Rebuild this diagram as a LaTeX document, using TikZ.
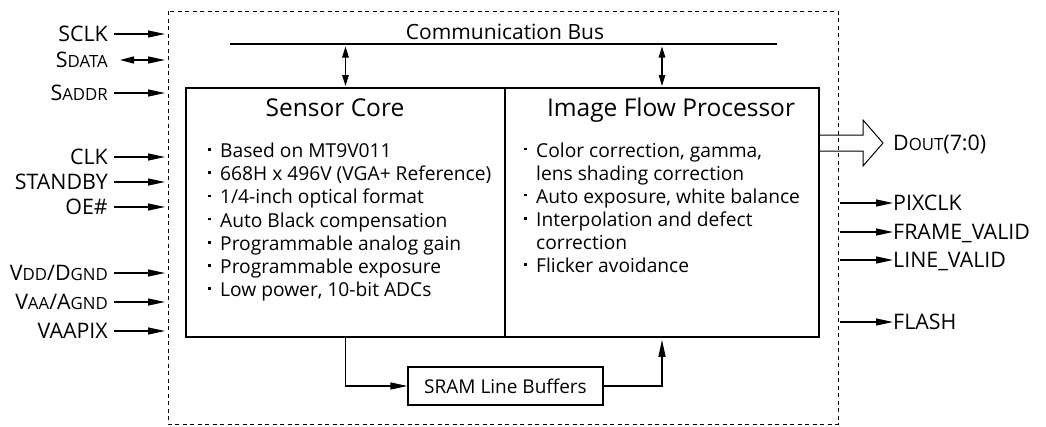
\documentclass[tikz,border=0pt]{standalone}
\usepackage{fontspec}
\setmainfont{Open Sans}
\usetikzlibrary{arrows.meta}
\newcommand{\smcap}[1]{{\fontsize{16.8}{17}\selectfont #1}}
\newcommand{\bul}{\makebox[12pt][l]{\rule[6.8pt]{2.6pt}{2.6pt}}}
\begin{document}
\begin{tikzpicture}[x=1pt,y=-1pt,
  lbl/.style={font=\fontsize{21.4}{22}\selectfont, inner sep=0pt},
  ttl/.style={font=\fontsize{24.5}{25}\selectfont, inner sep=0pt, anchor=base},
  itm/.style={font=\fontsize{19.2}{20}\selectfont, inner sep=0pt, anchor=base west},
  blockbox/.style={draw, line width=2.8pt, minimum height=249pt, inner sep=0pt},
  sig/.style={-{Triangle[length=17pt,width=7pt]}, line width=1.2pt},
  dsig/.style={{Triangle[length=14pt,width=7pt]}-{Triangle[length=17pt,width=7pt]}, line width=1.2pt},
  busarr/.style={{Triangle[length=11pt,width=6.5pt]}-{Triangle[length=11pt,width=6.5pt]}, line width=1.2pt},
  outline/.style={draw, dash pattern=on 4pt off 3.5pt, line width=0.9pt}
]
\useasboundingbox (0,0) rectangle (1046,426);
% outer dashed chip outline
\draw[outline] (168,11) rectangle (838,424);
% communication bus
\coordinate (busL) at (230,44);
\coordinate (busR) at (777,44);
\draw[line width=2.7pt] (busL) -- (busR);
\node[font=\fontsize{21}{22}\selectfont, inner sep=0pt, anchor=base] (bustxt) at (505,39) {Communication Bus};
% blocks
\node[blockbox, minimum width=319pt] (sc) at (345.5,212.5) {};
\node[blockbox, minimum width=314pt] (ifp) at (662,212.5) {};
% bus arrows
\coordinate (b1t) at (345.5,46.5);
\coordinate (b1b) at (345.5,86);
\coordinate (b2t) at (662,46.5);
\coordinate (b2b) at (662,86);
\draw[busarr] (b1t) -- (b1b);
\draw[busarr] (b2t) -- (b2b);
% titles
\node[ttl] (sctitle) at (335,116) {Sensor Core};
\node[ttl] (ifptitle) at (671,116) {Image Flow Processor};
% sensor core items
\node[itm] (s1) at (208,157.5) {\bul Based on MT9V011};
\node[itm] (s2) at (208,180.7) {\bul 668H x 496V (VGA+ Reference)};
\node[itm] (s3) at (208,203.9) {\bul 1/4-inch optical format};
\node[itm] (s4) at (208,227.1) {\bul Auto Black compensation};
\node[itm] (s5) at (208,250.3) {\bul Programmable analog gain};
\node[itm] (s6) at (208,273.5) {\bul Programmable exposure};
\node[itm] (s7) at (208,296.7) {\bul Low power, 10-bit ADCs};
% IFP items
\node[itm] (p1) at (524,157) {\bul Color correction, gamma,};
\node[itm] (p2) at (524,180) {\hphantom{\bul}lens shading correction};
\node[itm] (p3) at (524,203) {\bul Auto exposure, white balance};
\node[itm] (p4) at (524,226.5) {\bul Interpolation and defect};
\node[itm] (p5) at (524,249.5) {\hphantom{\bul}correction};
\node[itm] (p6) at (524,272.5) {\bul Flicker avoidance};
% SRAM
\node[draw, line width=1.2pt, minimum width=195pt, minimum height=38pt, inner sep=0pt,
      font=\fontsize{19}{20}\selectfont] (sram) at (505.5,386) {SRAM Line Buffers};
\draw[sig] (sc.south) |- (sram.west);
\draw[sig, shorten >=1.4pt] (sram.east) -| (ifp.south);
% left inputs
\foreach \nm/\txt/\y in {sclk/{SCLK}/34, sdata/{S\smcap{DATA}}/60, saddr/{S\smcap{ADDR}}/93,
    clk/{CLK}/157, stby/{STANDBY}/182, oe/{OE\#}/207,
    vdd/{V\smcap{DD}/D\smcap{GND}}/273, vaa/{V\smcap{AA}/A\smcap{GND}}/302, vpix/{VAAPIX}/331}{
  \node[lbl, anchor=base east] (\nm) at (108,\y+7.6) {\txt};
  \coordinate (\nm E) at (165,\y);
}
\draw[sig] (sclk.east |- sclkE) ++(6,0) -- (sclkE);
\draw[dsig] (sdata.east |- sdataE) ++(12,0) -- (sdataE);
\draw[sig] (saddr.east |- saddrE) ++(6,0) -- (saddrE);
\draw[sig] (clk.east |- clkE) ++(6,0) -- (clkE);
\draw[sig] (stby.east |- stbyE) ++(6,0) -- (stbyE);
\draw[sig] (oe.east |- oeE) ++(6,0) -- (oeE);
\draw[sig] (vdd.east |- vddE) ++(6,0) -- (vddE);
\draw[sig] (vaa.east |- vaaE) ++(6,0) -- (vaaE);
\draw[sig] (vpix.east |- vpixE) ++(6,0) -- (vpixE);
% data out hollow arrow
\draw[line width=1pt, line join=miter] (819,135) -- (863,135) -- (863,120) -- (883,143) -- (863,166) -- (863,151) -- (819,151);
\node[lbl, anchor=base west] (dout) at (893,150.6) {D\smcap{OUT}(7:0)};
% right outputs
\foreach \nm/\txt/\y in {pix/{PIXCLK}/203, fv/{FRAME\_VALID}/232, lv/{LINE\_VALID}/260, fl/{FLASH}/322}{
  \node[lbl, anchor=base west] (\nm) at (893,\y+7.6) {\txt};
  \coordinate (\nm S) at (840,\y);
  \draw[sig] (\nm S) -- (\nm S -| \nm.west);
}
\end{tikzpicture}
\end{document}
